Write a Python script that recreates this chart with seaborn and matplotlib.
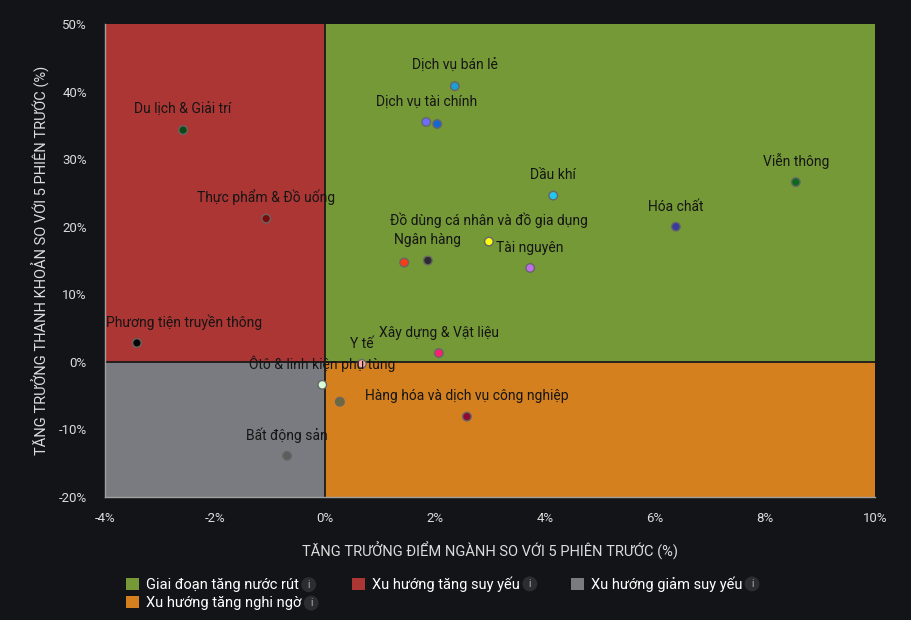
import numpy as np
import pandas as pd
import seaborn as sns
import matplotlib.pyplot as plt
from matplotlib.patches import Patch

# du lieu nganh (doc tu hinh)
sectors = ['Du lịch & Giải trí', 'Thực phẩm & Đồ uống', 'Phương tiện truyền thông',
           'Dịch vụ bán lẻ', 'Dịch vụ tài chính', 'Bảo hiểm', 'Dầu khí', 'Viễn thông',
           'Hóa chất', 'Đồ dùng cá nhân và đồ gia dụng', 'Ngân hàng', 'Công nghệ thông tin',
           'Tài nguyên', 'Xây dựng & Vật liệu', 'Y tế', 'Ôtô & linh kiện phụ tùng',
           'Điện, nước & xăng dầu khí đốt', 'Hàng hóa và dịch vụ công nghiệp', 'Bất động sản']
x_growth = [-2.58, -1.07, -3.42, 2.36, 1.84, 2.04, 4.15, 8.56, 6.38, 2.98, 1.87, 1.44,
            3.73, 2.07, 0.67, -0.05, 0.27, 2.58, -0.69]
y_liquidity = [34.3, 21.2, 2.8, 40.8, 35.5, 35.2, 24.6, 26.6, 20.0, 17.8, 15.0, 14.7,
               13.9, 1.3, -0.3, -3.4, -5.9, -8.1, -13.9]
show_label = [True, True, True, True, True, False, True, True, True, True, True, False,
              True, True, True, True, False, True, True]
point_colors = ['#0b4a14', '#7a0a0a', '#050505', '#1c9fd6', '#6c6cff', '#1466d6', '#22c8f0',
                '#0b6a1c', '#383a9c', '#ffff10', '#2b2b30', '#ff3a14', '#c070e8', '#ff1f70',
                '#ffa8a8', '#d8ffd8', '#6a6a3e', '#8c0a34', '#5c5c5c']

zones = ['Giai đoạn tăng nước rút', 'Xu hướng tăng suy yếu',
         'Xu hướng giảm suy yếu', 'Xu hướng tăng nghi ngờ']
zone_colors = ['#759936', '#ac3634', '#7a7b80', '#d4801f']

x_ticks = [-4, -2, 0, 2, 4, 6, 8, 10]
y_ticks = [-20, -10, 0, 10, 20, 30, 40, 50]

df = pd.DataFrame({'sector': sectors, 'x': x_growth, 'y': y_liquidity})

bg = '#131417'
txt = '#dcdcdc'
sns.set_style('dark')
plt.rcParams['font.family'] = ['Roboto', 'DejaVu Sans']

fig = plt.figure(figsize=(9.12, 6.2), dpi=100, facecolor=bg)
ax = fig.add_axes([105 / 912, 1 - 497 / 620, 770 / 912, 473 / 620])
ax.set_facecolor(bg)

# cac vung phan tu
ax.fill_between([0, 10], 0, 50, color=zone_colors[0], lw=0, zorder=0)
ax.fill_between([-4, 0], 0, 50, color=zone_colors[1], lw=0, zorder=0)
ax.fill_between([-4, 0], -20, 0, color=zone_colors[2], lw=0, zorder=0)
ax.fill_between([0, 10], -20, 0, color=zone_colors[3], lw=0, zorder=0)
ax.axvline(0, color='#1a1a1a', lw=1.3, zorder=1)
ax.axhline(0, color='#1a1a1a', lw=1.3, zorder=1)

sns.scatterplot(data=df, x='x', y='y', hue='sector', palette=dict(zip(sectors, point_colors)),
                s=38, edgecolor='#666666', linewidth=1.0, legend=False, ax=ax, zorder=3)

for name, xv, yv, lab in zip(sectors, x_growth, y_liquidity, show_label):
    if not lab:
        continue
    # nhan sat mep trai thi day vao trong
    if name == 'Phương tiện truyền thông':
        ax.annotate(name, (xv, yv), xytext=(-22, 9.5), textcoords='offset points',
                    ha='left', va='bottom', fontsize=10, color='#151515', zorder=4)
    else:
        ax.annotate(name, (xv, yv), xytext=(0, 9.5), textcoords='offset points',
                    ha='center', va='bottom', fontsize=10, color='#151515', zorder=4)

ax.set_xlim(-4, 10)
ax.set_ylim(-20, 50)
ax.set_xticks(x_ticks)
ax.set_yticks(y_ticks)
ax.set_xticklabels([f'{t}%' for t in x_ticks])
ax.set_yticklabels([f'{t}%' for t in y_ticks])
ax.tick_params(axis='x', colors='#9a9a9a', labelcolor=txt, length=6, width=1, labelsize=9.5, pad=5)
ax.tick_params(axis='y', length=0, labelcolor=txt, labelsize=9.5, pad=13)
ax.grid(False)
for side in ['top', 'right']:
    ax.spines[side].set_visible(False)
for side in ['left', 'bottom']:
    ax.spines[side].set_visible(True)
    ax.spines[side].set_color('#a0a0a0')
    ax.spines[side].set_linewidth(1)

ax.set_xlabel('TĂNG TRƯỞNG ĐIỂM NGÀNH SO VỚI 5 PHIÊN TRƯỚC (%)', color=txt, fontsize=10.5, labelpad=12)
ax.set_ylabel('TĂNG TRƯỞNG THANH KHOẢN SO VỚI 5 PHIÊN TRƯỚC (%)', color=txt, fontsize=10.5, labelpad=6)

# chu thich
order = [0, 3, 1, 2]
handles = [Patch(facecolor=zone_colors[i], edgecolor='none') for i in order]
leg = fig.legend(handles, [zones[i] for i in order], ncol=3, loc='upper left',
                 bbox_to_anchor=(113 / 912, 1 - 563 / 620), frameon=False, fontsize=10.5,
                 labelcolor='white', handlelength=0.9, handleheight=0.9, handletextpad=0.45,
                 columnspacing=3.5, labelspacing=0.3)

fig.canvas.draw()
renderer = fig.canvas.get_renderer()
for t in leg.get_texts():
    bb = t.get_window_extent(renderer)
    fig.text((bb.x1 + 10) / 912, (bb.y0 + bb.y1) / 2 / 620, 'i', color='#bbbbbb', fontsize=7,
             ha='center', va='center',
             bbox=dict(boxstyle='circle,pad=0.25', facecolor='#2c2d31', edgecolor='none'))

fig.savefig('out.png', dpi=100, facecolor=bg)
